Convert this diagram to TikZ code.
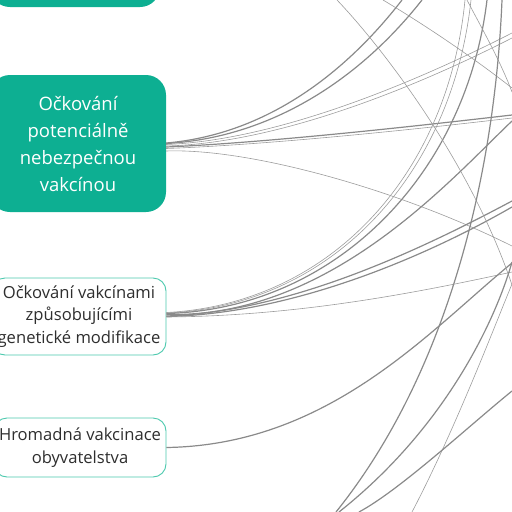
\documentclass[tikz,border=0pt]{standalone}
\usepackage{fontspec}
\setmainfont{Open Sans}
\definecolor{mmgreen}{HTML}{0DAF92}
\definecolor{mmborder}{HTML}{4CC9AE}
\definecolor{mmtext}{HTML}{2E2E2E}
\definecolor{lnk}{HTML}{8A8A8A}
\begin{document}
\begin{tikzpicture}[x=1pt,y=-1pt,
  greenbox/.style={fill=mmgreen, rounded corners=20pt, text=white, font=\fontsize{18.5}{27}\selectfont, align=center, inner sep=0pt},
  whitebox/.style={draw=mmborder, line width=0.9pt, fill=white, rounded corners=13pt, text=mmtext, font=\fontsize{16.6}{22.5}\selectfont, align=center, inner sep=0pt},
  link/.style={draw=lnk, line width=1.2pt},
  thinlink/.style={draw=lnk!85, line width=0.6pt}]
\useasboundingbox (0,0) rectangle (512,512);
\begin{scope}
\clip (0,0) rectangle (512,512);
% nodes
\node (n1) [greenbox, minimum width=170pt, minimum height=100pt] at (75,-43) {};
\node (n2) [greenbox, minimum width=176pt, minimum height=137pt] at (78,143.5) {Očkování\\potenciálně\\nebezpečnou\\vakcínou};
\node (n3) [whitebox, minimum width=174pt, minimum height=77pt] at (79,316.5) {Očkování vakcínami\\způsobujícími\\genetické modifikace};
\node (n4) [whitebox, minimum width=172pt, minimum height=59pt] at (80,447.5) {Hromadná vakcinace\\obyvatelstva};
% free ends at the edges of the view
\coordinate (t1) at (402,0);
\coordinate (t2) at (422,0);
\coordinate (t3a) at (512,33);
\coordinate (t3b) at (512,38);
\coordinate (t4a) at (512,115);
\coordinate (t4b) at (512,118);
\coordinate (t5) at (512,246);
\coordinate (t6a) at (337,0);
\coordinate (t6b) at (512,285);
\coordinate (t7a) at (383,0);
\coordinate (t7b) at (512,88);
\coordinate (t8a) at (467,0);
\coordinate (t8b) at (512,92);
\coordinate (t9a) at (465,0);
\coordinate (t9b) at (471,0);
\coordinate (t9c) at (487,0);
\coordinate (t10) at (512,121);
\coordinate (t11a) at (512,201);
\coordinate (t11b) at (512,207);
\coordinate (t12) at (512,272);
\coordinate (t13a) at (502,0);
\coordinate (t13b) at (336,512);
\coordinate (t14a) at (512,262);
\coordinate (t14b) at (339,512);
\coordinate (t15) at (512,263);
\coordinate (t16a) at (512,284);
\coordinate (t16b) at (412,512);
\coordinate (t17a) at (512,391);
\coordinate (t17b) at (359,512);
% connectors from n2
\draw[link] ([yshift=0.5pt]n2.east) .. controls (260,135) and (340,80) .. (t1);
\draw[link] (n2.east) .. controls (265,138) and (355,85) .. (t2);
\draw[thinlink] ([yshift=-1pt]n2.east) .. controls (280,140) and (420,80) .. (t3a);
\draw[thinlink] ([yshift=-2.5pt]n2.east) .. controls (282,143) and (422,84) .. (t3b);
\draw[link] ([yshift=-3.5pt]n2.east) .. controls (260,143) and (400,128) .. (t4a);
\draw[thinlink] ([yshift=-5pt]n2.east) .. controls (262,145) and (402,131) .. (t4b);
\draw[thinlink] ([yshift=-7.5pt]n2.east) .. controls (250,148) and (400,190) .. (t5);
% connectors from n3
\draw[thinlink] ([yshift=4pt]n3.east) .. controls (330,304) and (448,175) .. (t9a);
\draw[thinlink] ([yshift=3.5pt]n3.east) .. controls (332,306) and (452,175) .. (t9b);
\draw[link] ([yshift=3pt]n3.east) .. controls (335,309) and (466,175) .. (t9c);
\draw[link] ([yshift=2pt]n3.east) .. controls (330,318) and (450,180) .. (t10);
\draw[link] ([yshift=0.5pt]n3.east) .. controls (290,312) and (420,250) .. (t11a);
\draw[link] (n3.east) .. controls (292,314) and (425,257) .. (t11b);
\draw[thinlink] ([yshift=-0.5pt]n3.east) .. controls (300,316) and (420,292) .. (t12);
% connector from n4
\draw[link] (n4.east) .. controls (330,445) and (430,330) .. (t15);
% connectors crossing the view between nodes outside it
\draw[thinlink] (t6a) .. controls (380,45) and (470,160) .. (t6b);
\draw[thinlink] (t7a) .. controls (420,22) and (470,55) .. (t7b);
\draw[thinlink] (t8a) .. controls (480,25) and (500,60) .. (t8b);
\draw[link] (t13a) .. controls (495,170) and (450,370) .. (t13b);
\draw[link] (t14a) .. controls (500,305) and (455,420) .. (t14b);
\draw[thinlink] (t16a) .. controls (495,325) and (455,430) .. (t16b);
\draw[link] (t17a) .. controls (470,425) and (400,490) .. (t17b);
\end{scope}
\end{tikzpicture}
\end{document}
